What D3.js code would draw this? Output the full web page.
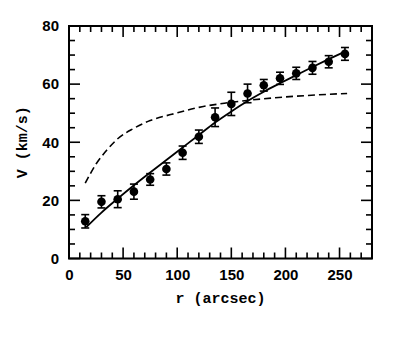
<!DOCTYPE html>
<html>
<head>
<meta charset="utf-8">
<script src="https://cdn.jsdelivr.net/npm/d3@7"></script>
<style>
  html, body { margin: 0; padding: 0; background: #fff; }
  svg { display: block; }
</style>
</head>
<body>
<script>
// Observed rotation velocities with their uncertainties
const radius = [15, 30, 45, 60, 75, 90, 105, 120, 135, 150, 165, 180, 195, 210, 225, 240, 255];
const velocity = [12.8, 19.5, 20.4, 23.0, 27.2, 30.8, 36.4, 41.9, 48.6, 53.2, 56.8, 59.6, 62.0, 63.7, 65.6, 67.7, 70.4];
const velocityErr = [2.3, 2.1, 2.9, 2.6, 2.0, 2.1, 2.3, 2.3, 3.2, 4.0, 3.2, 2.0, 2.1, 2.1, 2.2, 2.1, 2.2];

// Model curve (solid)
const modelR = [16, 30, 45, 60, 75, 90, 105, 120, 135, 150, 165, 180, 195, 210, 225, 240, 255];
const modelV = [10.8, 15.8, 20.6, 25.2, 29.6, 33.9, 38.2, 42.5, 46.8, 50.6, 54.2, 57.4, 60.3, 63.1, 65.9, 68.6, 71.2];

// Comparison curve (dashed)
const altR = [15, 25, 35, 45, 60, 75, 95, 120, 145, 170, 200, 230, 257];
const altV = [25.9, 32.5, 37.3, 41.2, 44.8, 47.5, 49.6, 52.0, 53.5, 54.6, 55.6, 56.3, 56.8];

const xTicks = [0, 50, 100, 150, 200, 250];
const yTicks = [0, 20, 40, 60, 80];

const W = 400, H = 342;
const m = { left: 69, top: 26, right: 372, bottom: 258.5 };

const svg = d3.select("body").append("svg").attr("width", W).attr("height", H);

const x = d3.scaleLinear().domain([0, 280]).range([m.left, m.right]);
const y = d3.scaleLinear().domain([0, 80]).range([m.bottom, m.top]);

const tickFont = "'Liberation Sans', Arial, sans-serif";
const titleFont = "'Liberation Mono', 'Courier New', monospace";

// Inward ticks on all four sides: minor every 10 (x) / 5 (y), major at labels
const xMinor = d3.range(0, 281, 10);
const yMinor = d3.range(0, 81, 5);
const majorLen = 11, minorLen = 6;

const ticksG = svg.append("g").attr("stroke", "#000").attr("stroke-width", 1.6);
xMinor.forEach(v => {
  const L = (v % 50 === 0) ? majorLen : minorLen;
  ticksG.append("line").attr("x1", x(v)).attr("x2", x(v)).attr("y1", m.bottom).attr("y2", m.bottom - L);
  ticksG.append("line").attr("x1", x(v)).attr("x2", x(v)).attr("y1", m.top).attr("y2", m.top + L);
});
yMinor.forEach(v => {
  const L = (v % 20 === 0) ? majorLen : minorLen;
  ticksG.append("line").attr("y1", y(v)).attr("y2", y(v)).attr("x1", m.left).attr("x2", m.left + L);
  ticksG.append("line").attr("y1", y(v)).attr("y2", y(v)).attr("x1", m.right).attr("x2", m.right - L);
});

// Tick labels via d3 axes
const xAxis = svg.append("g").attr("transform", `translate(0,${m.bottom})`)
  .call(d3.axisBottom(x).tickValues(xTicks).tickSize(0).tickPadding(11));
xAxis.select(".domain").remove();
xAxis.selectAll("text").attr("font-family", tickFont).attr("font-weight", "bold")
  .attr("font-size", 15).attr("fill", "#000");

const yAxis = svg.append("g").attr("transform", `translate(${m.left},0)`)
  .call(d3.axisLeft(y).tickValues(yTicks).tickSize(0).tickPadding(10));
yAxis.select(".domain").remove();
yAxis.selectAll("text").attr("font-family", tickFont).attr("font-weight", "bold")
  .attr("font-size", 15).attr("fill", "#000");

// Frame
svg.append("rect")
  .attr("x", m.left).attr("y", m.top)
  .attr("width", m.right - m.left).attr("height", m.bottom - m.top)
  .attr("fill", "none").attr("stroke", "#000").attr("stroke-width", 2);

// Curves
const line = d3.line().x(d => x(d[0])).y(d => y(d[1])).curve(d3.curveMonotoneX);

svg.append("path")
  .datum(altR.map((r, i) => [r, altV[i]]))
  .attr("d", line).attr("fill", "none").attr("stroke", "#000")
  .attr("stroke-width", 1.6).attr("stroke-dasharray", "7,4");

svg.append("path")
  .datum(modelR.map((r, i) => [r, modelV[i]]))
  .attr("d", line).attr("fill", "none").attr("stroke", "#000")
  .attr("stroke-width", 1.8);

// Error bars and points
const pts = radius.map((r, i) => ({ r, v: velocity[i], e: velocityErr[i] }));
const eb = svg.append("g").attr("stroke", "#000").attr("stroke-width", 1.6);
pts.forEach(d => {
  eb.append("line").attr("x1", x(d.r)).attr("x2", x(d.r)).attr("y1", y(d.v - d.e)).attr("y2", y(d.v + d.e));
  [d.v - d.e, d.v + d.e].forEach(v => {
    eb.append("line").attr("x1", x(d.r) - 4).attr("x2", x(d.r) + 4).attr("y1", y(v)).attr("y2", y(v));
  });
});
svg.append("g").selectAll("circle").data(pts).join("circle")
  .attr("cx", d => x(d.r)).attr("cy", d => y(d.v)).attr("r", 4.3).attr("fill", "#000");

// Axis titles
svg.append("text")
  .attr("x", (m.left + m.right) / 2).attr("y", 303)
  .attr("text-anchor", "middle")
  .attr("font-family", titleFont).attr("font-weight", "bold").attr("font-size", 15)
  .text("r (arcsec)");

svg.append("text")
  .attr("transform", `translate(27,${(m.top + m.bottom) / 2}) rotate(-90)`)
  .attr("text-anchor", "middle")
  .attr("font-family", titleFont).attr("font-weight", "bold").attr("font-size", 15)
  .text("V (km/s)");
</script>
</body>
</html>
